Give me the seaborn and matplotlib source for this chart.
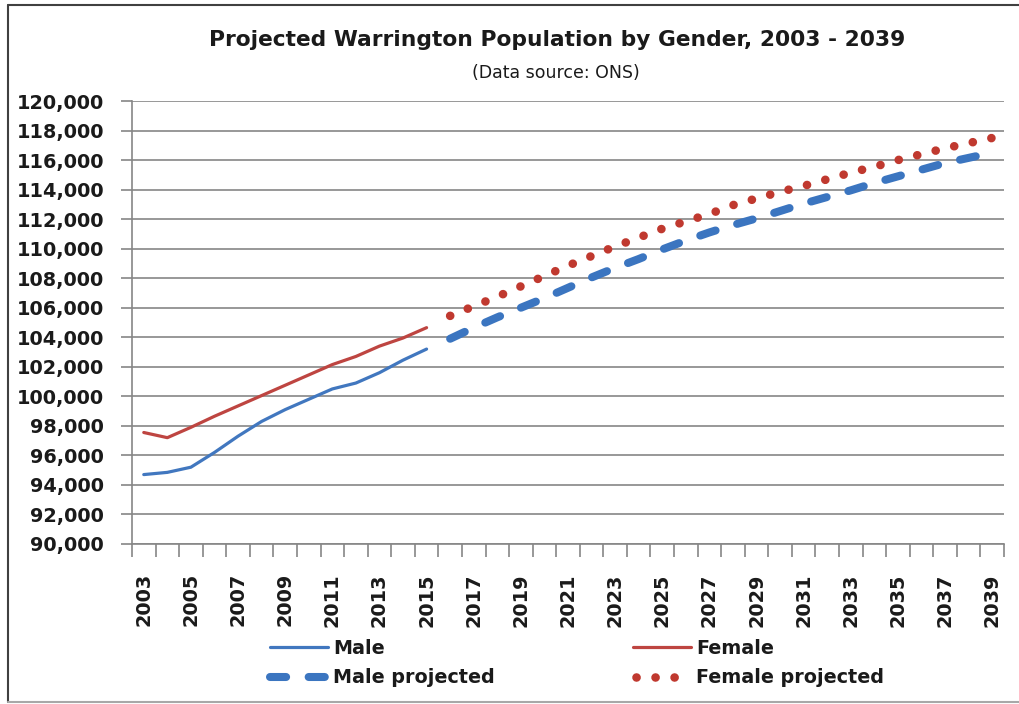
import numpy as np
import pandas as pd
import matplotlib
matplotlib.use('Agg')
import matplotlib.pyplot as plt
from matplotlib.lines import Line2D
from matplotlib.ticker import FuncFormatter, MultipleLocator, FixedLocator
import seaborn as sns

# Datos (población de Warrington por género)
years_actual = list(range(2003, 2016))
male_actual = [94700, 94850, 95200, 96200, 97300, 98300, 99100, 99800,
               100500, 100900, 101600, 102450, 103200]
female_actual = [97550, 97200, 97900, 98650, 99350, 100050, 100750, 101450,
                 102150, 102700, 103400, 103950, 104650]

years_proj = list(range(2016, 2040))
male_proj = [103900, 104650, 105350, 106000, 106650, 107350, 108050, 108700,
             109300, 109950, 110550, 111100, 111600, 112050, 112550, 113050,
             113500, 113950, 114450, 114900, 115350, 115800, 116150, 116500]
female_proj = [105450, 106100, 106750, 107450, 108150, 108850, 109500, 110150,
               110750, 111350, 111850, 112350, 112950, 113400, 113850, 114250,
               114700, 115150, 115550, 116000, 116400, 116800, 117150, 117500]

series_labels = ['Male', 'Female', 'Male projected', 'Female projected']
label_years = list(range(2003, 2040, 2))

sns.set_theme(style='white')
plt.rcParams['font.family'] = ['DejaVu Sans']

fig = plt.figure(figsize=(10.2, 7.04), dpi=100)
ax = fig.add_axes([0.1294, 0.2273, 0.8549, 0.6292])

blue = '#4177BF'
blue_proj = '#3B75C0'
red = '#BE4541'
red_proj = '#C0392F'

# Series reales
sns.lineplot(x=years_actual, y=male_actual, ax=ax, color=blue, lw=2.3,
             label=series_labels[0])
sns.lineplot(x=years_actual, y=female_actual, ax=ax, color=red, lw=2.3,
             label=series_labels[1])

# Series proyectadas
sns.lineplot(x=years_proj, y=male_proj, ax=ax, color=blue_proj, lw=5.8,
             label=series_labels[2])
l_mp = ax.lines[-1]
l_mp.set_dashes((2.0, 2.8))
l_mp.set_dash_capstyle('round')

sns.lineplot(x=years_proj, y=female_proj, ax=ax, color=red_proj, lw=6.2,
             label=series_labels[3])
l_fp = ax.lines[-1]
l_fp.set_dashes((0.01, 2.2))
l_fp.set_dash_capstyle('round')

# Ejes
ax.set_xlim(2002.5, 2039.5)
ax.set_ylim(90000, 120000)
ax.yaxis.set_major_locator(MultipleLocator(2000))
ax.yaxis.set_major_formatter(FuncFormatter(lambda v, p: f'{int(v):,}'))
ax.xaxis.set_major_locator(FixedLocator(label_years))
ax.xaxis.set_minor_locator(FixedLocator(np.arange(2002.5, 2040, 1)))
ax.tick_params(axis='x', which='major', length=0, pad=21, labelsize=13.9,
               labelrotation=90, colors='#1a1a1a')
ax.tick_params(axis='x', which='minor', length=9, width=1.2, color='#868686',
               direction='out', bottom=True)
ax.tick_params(axis='y', which='major', length=8, width=1.2, color='#868686',
               direction='out', left=True, pad=12, labelsize=13.9,
               labelcolor='#1a1a1a')
for lab in ax.get_xticklabels() + ax.get_yticklabels():
    lab.set_fontweight('bold')

ax.grid(axis='y', color='#868686', lw=1.2)
ax.grid(axis='x', visible=False)
for s in ['top', 'right']:
    ax.spines[s].set_visible(False)
for s in ['left', 'bottom']:
    ax.spines[s].set_color('#868686')
    ax.spines[s].set_linewidth(1.2)
ax.set_xlabel('')
ax.set_ylabel('')

# Leyenda
handles, labels = ax.get_legend_handles_labels()
ax.get_legend().remove()
order = [0, 2, 1, 3]
leg = fig.legend([handles[i] for i in order], [labels[i] for i in order],
                 loc='center', bbox_to_anchor=(0.566, 0.058), ncol=2,
                 frameon=False, prop={'weight': 'bold', 'size': 13.8},
                 handlelength=3.0, handletextpad=0.3, columnspacing=7.2,
                 labelspacing=0.55)
for t in leg.get_texts():
    t.set_color('#1a1a1a')
# solo tres puntos en la muestra de "Female projected"
h_fp = leg.legend_handles[3]
xd = np.asarray(h_fp.get_xdata(), dtype=float)
h_fp.set_xdata(np.linspace(xd[0] + 2, xd[0] + (xd[-1] - xd[0]) * 0.72, len(xd)))

# Títulos
fig.text(0.546, 0.943, 'Projected Warrington Population by Gender, 2003 - 2039',
         ha='center', va='center', fontsize=15.7, fontweight='bold',
         color='#1a1a1a')
fig.text(0.545, 0.896, '(Data source: ONS)', ha='center', va='center',
         fontsize=12.5, color='#1a1a1a')

# Marco exterior (izquierda y arriba oscuros, abajo gris claro)
W, H = 1020, 704
fig.lines.append(Line2D([8 / W, 8 / W], [1 - 5 / H, 1 - 702 / H],
                        transform=fig.transFigure, color='#404040', lw=1.5))
fig.lines.append(Line2D([8 / W, 1.0], [1 - 5 / H, 1 - 5 / H],
                        transform=fig.transFigure, color='#404040', lw=1.5))
fig.lines.append(Line2D([8 / W, 1.0], [1 - 702 / H, 1 - 702 / H],
                        transform=fig.transFigure, color='#a8a8a8', lw=1.5))

plt.savefig('out.png', dpi=100)
